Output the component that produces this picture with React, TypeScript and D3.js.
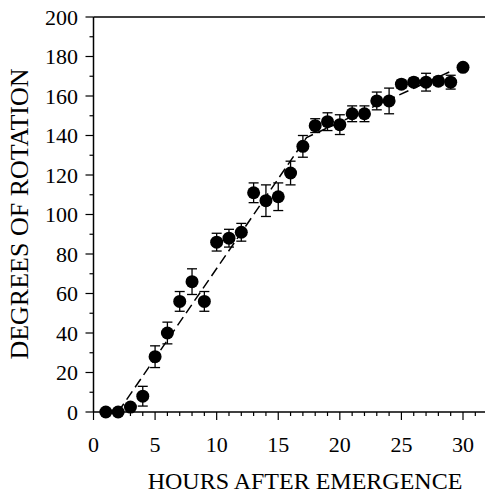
import React, { useRef, useEffect } from 'react';
import * as d3 from 'd3';

// hours after emergence (x) and mean rotation (y) with error bars
const hours = [1, 2, 3, 4, 5, 6, 7, 8, 9, 10, 11, 12, 13, 14, 15, 16, 17, 18, 19, 20, 21, 22, 23, 24, 25, 26, 27, 28, 29, 30];
const degrees = [0, 0, 2.5, 8, 28, 40, 56, 66, 56, 86, 88, 91, 111, 107, 109, 121, 134.5, 145, 147, 145.5, 151, 151, 157.5, 157.5, 166, 167, 167, 167.5, 167, 174.5];
const errors = [0, 0, 0, 5, 5.5, 5.5, 5, 6.5, 5, 4.5, 4.5, 4.5, 5, 8, 7, 6, 5.5, 3.5, 4.5, 5, 4, 4, 4.5, 6.5, 2, 2, 4.5, 2, 3.5, 0];

// dashed two-phase fit
const fitHours = [2, 17.3, 29];
const fitDegrees = [0, 139, 172.5];

const xTicks = [0, 5, 10, 15, 20, 25, 30];
const yTicks = [0, 20, 40, 60, 80, 100, 120, 140, 160, 180, 200];

const W = 485;
const H = 494;
const FONT = '"Liberation Serif", "Times New Roman", serif';

export default function App() {
  const svgRef = useRef<SVGSVGElement>(null);

  useEffect(() => {
    const svg = d3.select(svgRef.current);
    svg.selectAll('*').remove();

    const x = d3.scaleLinear().domain([0, 30]).range([93.5, 463]);
    const y = d3.scaleLinear().domain([0, 200]).range([412, 17]);

    const g = svg.append('g');

    // top frame line
    g.append('line')
      .attr('x1', x(0)).attr('x2', W)
      .attr('y1', y(200)).attr('y2', y(200))
      .attr('stroke', '#000').attr('stroke-width', 1.5);

    // x axis
    g.append('line')
      .attr('x1', x(0)).attr('x2', W)
      .attr('y1', y(0)).attr('y2', y(0))
      .attr('stroke', '#000').attr('stroke-width', 1.5);
    d3.range(0, 32).forEach(h => {
      const major = h % 5 === 0;
      g.append('line')
        .attr('x1', x(h)).attr('x2', x(h))
        .attr('y1', y(0)).attr('y2', y(0) + (major ? 8 : 4))
        .attr('stroke', '#000').attr('stroke-width', 1.2);
    });
    g.selectAll('text.xt')
      .data(xTicks)
      .join('text')
      .attr('class', 'xt')
      .attr('x', d => x(d))
      .attr('y', 452)
      .attr('text-anchor', 'middle')
      .attr('font-family', FONT)
      .attr('font-size', 22)
      .text(d => d);

    // y axis
    g.append('line')
      .attr('x1', x(0)).attr('x2', x(0))
      .attr('y1', y(0)).attr('y2', y(200))
      .attr('stroke', '#000').attr('stroke-width', 1.5);
    d3.range(0, 201, 10).forEach(v => {
      const major = v % 20 === 0;
      g.append('line')
        .attr('x1', x(0) - (major ? 8 : 4)).attr('x2', x(0))
        .attr('y1', y(v)).attr('y2', y(v))
        .attr('stroke', '#000').attr('stroke-width', 1.2);
    });
    g.selectAll('text.yt')
      .data(yTicks)
      .join('text')
      .attr('class', 'yt')
      .attr('x', 78)
      .attr('y', d => y(d))
      .attr('dy', '0.35em')
      .attr('text-anchor', 'end')
      .attr('font-family', FONT)
      .attr('font-size', 22)
      .text(d => d);

    // axis titles
    g.append('text')
      .attr('x', 305)
      .attr('y', 489)
      .attr('text-anchor', 'middle')
      .attr('font-family', FONT)
      .attr('font-size', 24)
      .text('HOURS AFTER EMERGENCE');
    g.append('text')
      .attr('transform', `translate(28,214) rotate(-90)`)
      .attr('text-anchor', 'middle')
      .attr('font-family', FONT)
      .attr('font-size', 26)
      .text('DEGREES OF ROTATION');

    // fit line
    const line = d3.line<number>()
      .x((_, i) => x(fitHours[i]))
      .y(d => y(d));
    g.append('path')
      .datum(fitDegrees)
      .attr('fill', 'none')
      .attr('stroke', '#000')
      .attr('stroke-width', 1.5)
      .attr('stroke-dasharray', '10,5')
      .attr('d', line);

    // error bars
    const bars = g.selectAll('g.err')
      .data(hours.map((h, i) => ({ h, v: degrees[i], e: errors[i] })).filter(d => d.e > 0))
      .join('g')
      .attr('class', 'err')
      .attr('stroke', '#000')
      .attr('stroke-width', 1.3);
    bars.append('line')
      .attr('x1', d => x(d.h)).attr('x2', d => x(d.h))
      .attr('y1', d => y(d.v - d.e)).attr('y2', d => y(d.v + d.e));
    bars.append('line')
      .attr('x1', d => x(d.h) - 5).attr('x2', d => x(d.h) + 5)
      .attr('y1', d => y(d.v + d.e)).attr('y2', d => y(d.v + d.e));
    bars.append('line')
      .attr('x1', d => x(d.h) - 5).attr('x2', d => x(d.h) + 5)
      .attr('y1', d => y(d.v - d.e)).attr('y2', d => y(d.v - d.e));

    // points
    g.selectAll('circle')
      .data(hours)
      .join('circle')
      .attr('cx', d => x(d))
      .attr('cy', (_, i) => y(degrees[i]))
      .attr('r', 6.5)
      .attr('fill', '#000');
  }, []);

  return (
    <svg
      ref={svgRef}
      width={W}
      height={H}
      style={{ position: 'absolute', left: 0, top: 0, background: '#fff' }}
    />
  );
}
